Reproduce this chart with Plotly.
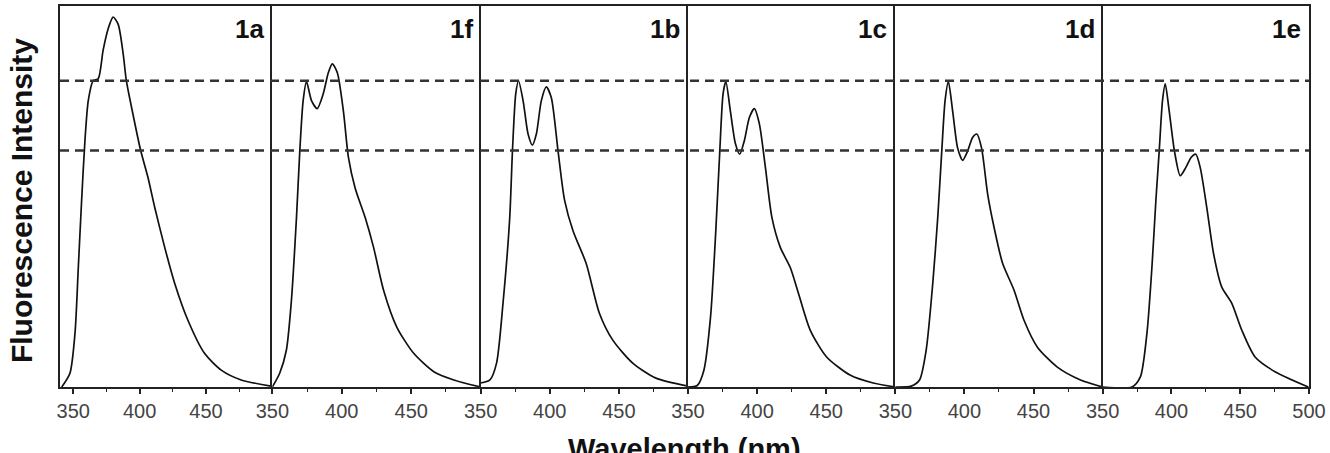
import plotly.graph_objects as go

# ---- data ----
panel_labels = ["1a", "1f", "1b", "1c", "1d", "1e"]

wl_1a = [341.3, 347.5, 351.3, 353.8, 356.3, 358.8, 361.3, 365.0, 368.8, 372.5, 376.3, 380.0, 383.8, 387.6, 390.0, 395.0, 400.8, 406.3, 411.4, 418.9, 426.4, 436.4, 448.9, 461.5, 476.5, 499.0]
fi_1a = [0.0, 4.5, 17.6, 39.0, 61.0, 80.5, 93.5, 100.0, 100.6, 110.0, 117.0, 120.8, 118.5, 108.8, 100.0, 89.0, 77.2, 68.4, 58.6, 45.6, 33.9, 21.8, 11.0, 5.5, 2.3, 0.3]

wl_1f = [350.0, 355.3, 360.1, 363.7, 367.4, 369.8, 372.2, 374.6, 378.2, 382.3, 386.7, 390.3, 393.2, 396.8, 401.2, 404.8, 409.6, 416.8, 422.9, 430.1, 439.7, 451.8, 466.3, 480.7, 500.0]
fi_1f = [0.0, 4.5, 12.0, 28.0, 55.4, 77.2, 93.5, 99.7, 93.5, 90.9, 95.8, 102.6, 105.5, 102.6, 90.0, 75.0, 65.0, 55.4, 45.6, 31.6, 19.5, 11.0, 5.0, 2.3, 0.0]

wl_1b = [350.0, 356.7, 361.5, 366.3, 371.0, 373.0, 375.4, 377.4, 380.7, 384.3, 387.4, 390.3, 393.9, 397.5, 401.1, 406.0, 410.7, 416.8, 426.3, 435.9, 445.6, 460.0, 476.8, 500.0]
fi_1b = [1.3, 2.3, 7.8, 28.0, 55.0, 77.0, 95.8, 100.0, 93.5, 82.6, 79.0, 82.6, 93.5, 98.0, 94.5, 77.0, 61.0, 51.0, 40.4, 24.1, 15.3, 7.8, 2.9, 0.3]

wl_1c = [350.0, 356.7, 361.5, 366.3, 370.0, 373.0, 375.4, 377.4, 380.7, 384.3, 387.4, 390.8, 394.4, 398.0, 401.6, 406.0, 410.7, 416.8, 424.0, 429.9, 438.4, 450.3, 467.2, 484.0, 500.0]
fi_1c = [0.0, 0.5, 5.5, 22.8, 50.0, 77.0, 95.8, 99.7, 90.0, 79.5, 76.0, 80.5, 88.0, 90.9, 86.0, 71.7, 55.4, 45.6, 39.0, 30.6, 18.6, 9.8, 3.9, 1.3, 0.0]

wl_1d = [350.0, 361.5, 367.5, 372.3, 377.1, 380.7, 383.6, 386.0, 388.4, 391.5, 395.1, 398.7, 402.3, 405.9, 409.0, 412.4, 416.8, 421.5, 427.6, 435.9, 443.1, 452.8, 467.2, 484.0, 500.0]
fi_1d = [0.0, 0.3, 2.3, 12.0, 33.9, 55.4, 77.0, 93.5, 99.7, 90.0, 78.0, 74.0, 77.0, 81.5, 82.6, 78.0, 63.0, 52.0, 40.4, 31.6, 21.8, 13.0, 6.5, 2.3, 0.0]

wl_1e = [350.0, 371.3, 377.4, 382.2, 385.8, 388.7, 391.1, 393.5, 395.5, 398.4, 402.2, 406.4, 410.5, 414.4, 417.7, 420.9, 425.7, 430.6, 436.6, 443.8, 451.1, 460.8, 475.3, 499.5]
fi_1e = [0.0, 0.0, 3.3, 17.6, 39.0, 61.0, 77.0, 93.5, 99.0, 90.0, 77.0, 69.0, 71.7, 75.0, 76.0, 71.7, 58.6, 43.6, 32.6, 27.4, 18.6, 9.8, 5.0, 0.0]

series = [(wl_1a, fi_1a), (wl_1f, fi_1f), (wl_1b, fi_1b),
          (wl_1c, fi_1c), (wl_1d, fi_1d), (wl_1e, fi_1e)]

x_ranges = [[340, 500], [350, 500], [350, 500], [350, 500], [350, 500], [350, 500]]
major_ticks = [[350, 400, 450], [350, 400, 450], [350, 400, 450],
               [350, 400, 450], [350, 400, 450], [350, 400, 450, 500]]
minor_ticks = [375, 425, 475]
dashed_levels = [100.0, 77.2]
y_range = [0, 124.4]

x_title = "Wavelength (nm)"
y_title = "Fluorescence Intensity"

# ---- layout geometry ----
W, H = 1330, 453
L, R, T, B = 60, 17, 4, 66
edges_px = [60, 273, 482, 690, 898, 1106, 1313]
pw = W - L - R
domains = [[(edges_px[i] - L) / pw, (edges_px[i + 1] - L) / pw] for i in range(6)]

AX = "#222222"
fig = go.Figure()
layout = dict(
    width=W, height=H,
    margin=dict(l=L, r=R, t=T, b=B),
    paper_bgcolor="white", plot_bgcolor="white",
    showlegend=False,
    font=dict(family="Arial, Liberation Sans, sans-serif", color="#333333"),
)

for i, (wl, fi) in enumerate(series):
    n = "" if i == 0 else str(i + 1)
    fig.add_trace(go.Scatter(
        x=wl, y=fi, mode="lines",
        line=dict(color="#111111", width=1.7, shape="spline", smoothing=0.7),
        xaxis="x" + n, yaxis="y" + n, hoverinfo="skip"))
    layout["xaxis" + n] = dict(
        domain=domains[i], range=x_ranges[i], anchor="y" + n,
        showline=True, linewidth=1.8, linecolor=AX, mirror=True,
        showgrid=False, zeroline=False,
        tickmode="array", tickvals=major_ticks[i],
        ticks="outside", ticklen=5, tickwidth=1.5, tickcolor=AX,
        minor=dict(tickmode="array", tickvals=minor_ticks, ticks="outside",
                   ticklen=3, tickwidth=1.2, tickcolor=AX),
        tickfont=dict(size=20, color="#444444"),
        fixedrange=True,
    )
    layout["yaxis" + n] = dict(
        domain=[0, 1], range=y_range, anchor="x" + n,
        showline=True, linewidth=1.8, linecolor=AX,
        mirror=(i == len(series) - 1),
        showgrid=False, zeroline=False, showticklabels=False, ticks="",
        fixedrange=True,
    )

shapes = []
for lvl in dashed_levels:
    shapes.append(dict(type="line", xref="paper", yref="y", x0=0, x1=1,
                       y0=lvl, y1=lvl,
                       line=dict(color="#333333", width=2.5, dash="9px,6px")))
layout["shapes"] = shapes

ann = []
for i, lab in enumerate(panel_labels):
    ann.append(dict(text="<b>%s</b>" % lab, xref="paper", yref="paper",
                    x=domains[i][1] - 6 / pw, y=(387 - 27) / 383,
                    xanchor="right", yanchor="middle", showarrow=False,
                    font=dict(size=26, color="#111111")))
ann.append(dict(text="<b>%s</b>" % y_title, xref="paper", yref="paper",
                x=(22 - L) / pw, y=(387 - 200) / 383, textangle=-90,
                xanchor="center", yanchor="middle", showarrow=False,
                font=dict(size=30, color="#111111")))
ann.append(dict(text="<b>%s</b>" % x_title, xref="paper", yref="paper",
                x=(686 - L) / pw, y=-(431 - 387) / 383,
                xanchor="center", yanchor="top", showarrow=False,
                font=dict(size=29, color="#111111")))
layout["annotations"] = ann

fig.update_layout(**layout)
fig.write_html("out.html")
